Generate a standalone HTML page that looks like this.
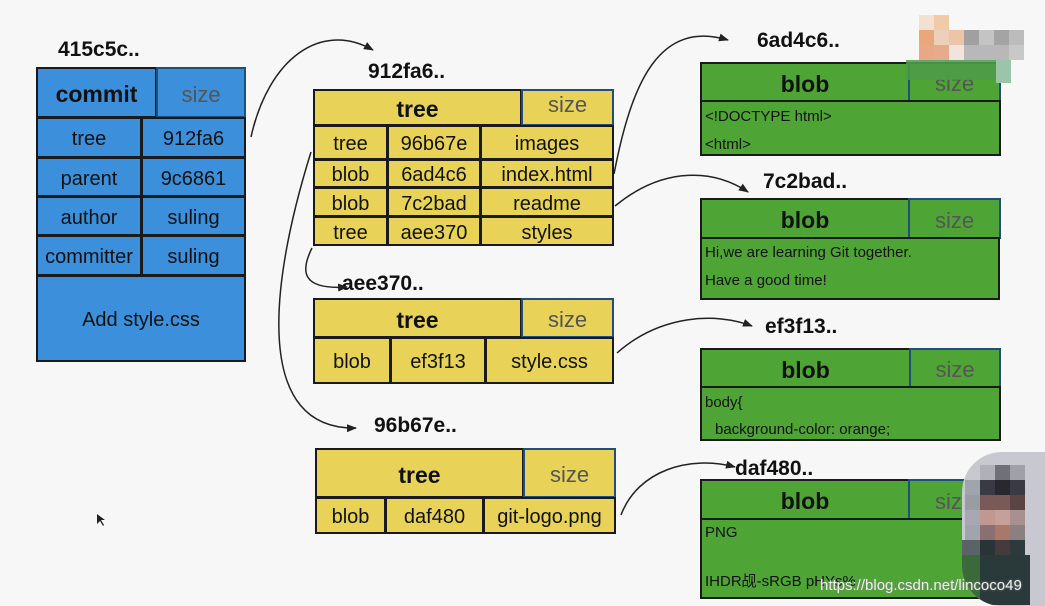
<!DOCTYPE html>
<html><head><meta charset="utf-8">
<style>
body{margin:0;width:1045px;height:606px;background:#f7f7f7;position:relative;overflow:hidden;font-family:"Liberation Sans","Noto Sans CJK SC",sans-serif;}
.c{position:absolute;box-sizing:border-box;border:2px solid #1a1a1a;display:flex;align-items:center;justify-content:center;color:#111;font-size:20px;padding-top:4px;}
.b{background:#3b8fdb;}
.y{background:#e8d257;}
.g{background:#4ea535;}
.sz{border-color:#1f4f7a;color:#555;font-size:22px;}
.h{font-weight:bold;font-size:23px;}
.lbl{position:absolute;font-weight:bold;font-size:21px;color:#111;}
.txt{position:absolute;font-size:15px;color:#111;}
.px{position:absolute;width:15px;height:15px;}
</style></head><body>

<!-- commit -->
<div class="lbl" style="left:58px;top:38px">415c5c..</div>
<div class="c b h" style="left:36px;top:67px;width:121px;height:51px">commit</div>
<div class="c b sz" style="left:156px;top:67px;width:90px;height:51px">size</div>
<div class="c b" style="left:36px;top:117px;width:106px;height:41px">tree</div>
<div class="c b" style="left:141px;top:117px;width:105px;height:41px">912fa6</div>
<div class="c b" style="left:36px;top:157px;width:106px;height:40px">parent</div>
<div class="c b" style="left:141px;top:157px;width:105px;height:40px">9c6861</div>
<div class="c b" style="left:36px;top:196px;width:106px;height:40px">author</div>
<div class="c b" style="left:141px;top:196px;width:105px;height:40px">suling</div>
<div class="c b" style="left:36px;top:235px;width:106px;height:41px">committer</div>
<div class="c b" style="left:141px;top:235px;width:105px;height:41px">suling</div>
<div class="c b" style="left:36px;top:275px;width:210px;height:87px">Add style.css</div>

<!-- tree 912fa6 -->
<div class="lbl" style="left:368px;top:60px">912fa6..</div>
<div class="c y h" style="left:313px;top:89px;width:209px;height:37px">tree</div>
<div class="c y sz" style="left:521px;top:89px;width:93px;height:37px;align-items:flex-start;padding-top:1px">size</div>
<div class="c y" style="left:313px;top:125px;width:75px;height:35px">tree</div>
<div class="c y" style="left:387px;top:125px;width:94px;height:35px">96b67e</div>
<div class="c y" style="left:480px;top:125px;width:134px;height:35px">images</div>
<div class="c y" style="left:313px;top:159px;width:75px;height:29px">blob</div>
<div class="c y" style="left:387px;top:159px;width:94px;height:29px">6ad4c6</div>
<div class="c y" style="left:480px;top:159px;width:134px;height:29px">index.html</div>
<div class="c y" style="left:313px;top:187px;width:75px;height:30px">blob</div>
<div class="c y" style="left:387px;top:187px;width:94px;height:30px">7c2bad</div>
<div class="c y" style="left:480px;top:187px;width:134px;height:30px">readme</div>
<div class="c y" style="left:313px;top:216px;width:75px;height:30px">tree</div>
<div class="c y" style="left:387px;top:216px;width:94px;height:30px">aee370</div>
<div class="c y" style="left:480px;top:216px;width:134px;height:30px">styles</div>

<!-- tree aee370 -->
<div class="lbl" style="left:342px;top:272px">aee370..</div>
<div class="c y h" style="left:313px;top:298px;width:209px;height:40px">tree</div>
<div class="c y sz" style="left:521px;top:298px;width:93px;height:40px">size</div>
<div class="c y" style="left:313px;top:337px;width:78px;height:47px">blob</div>
<div class="c y" style="left:390px;top:337px;width:96px;height:47px">ef3f13</div>
<div class="c y" style="left:485px;top:337px;width:129px;height:47px">style.css</div>

<!-- tree 96b67e -->
<div class="lbl" style="left:374px;top:414px">96b67e..</div>
<div class="c y h" style="left:315px;top:448px;width:209px;height:50px">tree</div>
<div class="c y sz" style="left:523px;top:448px;width:93px;height:50px">size</div>
<div class="c y" style="left:315px;top:497px;width:71px;height:37px">blob</div>
<div class="c y" style="left:385px;top:497px;width:99px;height:37px">daf480</div>
<div class="c y" style="left:483px;top:497px;width:133px;height:37px">git-logo.png</div>

<!-- blob 6ad4c6 -->
<div class="lbl" style="left:757px;top:29px">6ad4c6..</div>
<div class="c g h" style="left:700px;top:62px;width:210px;height:40px">blob</div>
<div class="c g sz" style="left:908px;top:62px;width:93px;height:40px">size</div>
<div class="c g" style="left:700px;top:100px;width:301px;height:56px"></div>
<div class="txt" style="left:705px;top:108px">&lt;!DOCTYPE html&gt;</div>
<div class="txt" style="left:705px;top:136px">&lt;html&gt;</div>

<!-- blob 7c2bad -->
<div class="lbl" style="left:763px;top:170px">7c2bad..</div>
<div class="c g h" style="left:700px;top:198px;width:210px;height:41px">blob</div>
<div class="c g sz" style="left:908px;top:198px;width:93px;height:41px">size</div>
<div class="c g" style="left:700px;top:237px;width:300px;height:63px"></div>
<div class="txt" style="left:705px;top:244px">Hi,we are learning Git together.</div>
<div class="txt" style="left:705px;top:272px">Have a good time!</div>

<!-- blob ef3f13 -->
<div class="lbl" style="left:765px;top:315px">ef3f13..</div>
<div class="c g h" style="left:700px;top:348px;width:211px;height:40px">blob</div>
<div class="c g sz" style="left:909px;top:348px;width:92px;height:40px">size</div>
<div class="c g" style="left:700px;top:386px;width:301px;height:55px"></div>
<div class="txt" style="left:705px;top:394px">body{</div>
<div class="txt" style="left:715px;top:421px">background-color: orange;</div>

<!-- blob daf480 -->
<div class="lbl" style="left:735px;top:457px">daf480..</div>
<div class="c g h" style="left:700px;top:479px;width:210px;height:41px">blob</div>
<div class="c g sz" style="left:908px;top:479px;width:93px;height:41px">size</div>
<div class="c g" style="left:700px;top:518px;width:301px;height:81px"></div>
<div class="txt" style="left:705px;top:524px">PNG</div>
<div class="txt" style="left:705px;top:570px">IHDR觇-sRGB pHYs%</div>

<svg width="1045" height="606" style="position:absolute;left:0;top:0" fill="none" stroke="#222" stroke-width="1.5">
<defs><marker id="a" markerWidth="10" markerHeight="8" refX="9" refY="4" orient="auto" markerUnits="userSpaceOnUse"><path d="M0,0 L10,4 L0,8 Z" fill="#222" stroke="none"/></marker></defs>
<path d="M251,137 C268,60 320,20 373,50" marker-end="url(#a)"/>
<path d="M311,152 C268,290 255,430 356,428" marker-end="url(#a)"/>
<path d="M312,248 C300,272 302,290 347,287" marker-end="url(#a)"/>
<path d="M614,174 C632,80 660,20 728,40" marker-end="url(#a)"/>
<path d="M615,206 C665,165 715,170 748,192" marker-end="url(#a)"/>
<path d="M617,353 C660,315 715,312 752,326" marker-end="url(#a)"/>
<path d="M621,515 C638,470 690,455 735,467" marker-end="url(#a)"/>
<path d="M97,514 L97,524 L100,521 L103,526 L104,525 L101,520 L105,520 Z" fill="#222" stroke="none"/>
</svg>

<!-- top-right pixelated -->
<div class="px" style="left:919px;top:15px;background:#f2e0d2"></div>
<div class="px" style="left:934px;top:15px;background:#efcba8"></div>
<div class="px" style="left:919px;top:30px;background:#e8a87c"></div>
<div class="px" style="left:934px;top:30px;background:#edd0bc"></div>
<div class="px" style="left:949px;top:30px;background:#ecc4a8"></div>
<div class="px" style="left:964px;top:30px;background:#a0a0a0"></div>
<div class="px" style="left:979px;top:30px;background:#c4c4c4"></div>
<div class="px" style="left:994px;top:30px;background:#a4a4a4"></div>
<div class="px" style="left:1009px;top:30px;background:#bcbcbc"></div>
<div class="px" style="left:919px;top:45px;background:#e8a888"></div>
<div class="px" style="left:934px;top:45px;background:#e8aa8c"></div>
<div class="px" style="left:949px;top:45px;background:#f0e4dc"></div>
<div class="px" style="left:964px;top:45px;width:45px;background:#b8b8b8"></div>
<div class="px" style="left:1009px;top:45px;background:#c8c8c8"></div>
<div class="px" style="left:906px;top:60px;width:90px;height:20px;background:#4f9a48;opacity:.85"></div>
<div class="px" style="left:996px;top:60px;height:23px;background:#9cc4a8"></div>

<!-- bottom-right pixelated avatar -->
<div style="position:absolute;left:962px;top:452px;width:83px;height:154px;border-radius:40px 0 0 40px;overflow:hidden;background:#c8c8d0">
<div class="px" style="left:18px;top:13px;background:#b0b0b8"></div><div class="px" style="left:33px;top:13px;background:#707078"></div><div class="px" style="left:48px;top:13px;background:#a0a0a8"></div>
<div class="px" style="left:3px;top:28px;background:#a0a4ac"></div><div class="px" style="left:18px;top:28px;background:#3a3a44"></div><div class="px" style="left:33px;top:28px;background:#28282e"></div><div class="px" style="left:48px;top:28px;background:#3a3a44"></div>
<div class="px" style="left:3px;top:43px;background:#9a9ca4"></div><div class="px" style="left:18px;top:43px;background:#7a5a58"></div><div class="px" style="left:33px;top:43px;background:#7a5a58"></div><div class="px" style="left:48px;top:43px;background:#5a4444"></div>
<div class="px" style="left:3px;top:58px;background:#a8a8b4"></div><div class="px" style="left:18px;top:58px;background:#c09890"></div><div class="px" style="left:33px;top:58px;background:#c4a098"></div><div class="px" style="left:48px;top:58px;background:#a89090"></div>
<div class="px" style="left:3px;top:73px;background:#a0a4ac"></div><div class="px" style="left:18px;top:73px;background:#8a7070"></div><div class="px" style="left:33px;top:73px;background:#a87868"></div><div class="px" style="left:48px;top:73px;background:#8a8080"></div>
<div class="px" style="left:0px;top:88px;width:18px;background:#5a6468"></div><div class="px" style="left:18px;top:88px;width:30px;background:#2a3438"></div><div class="px" style="left:33px;top:88px;background:#443c3c"></div><div class="px" style="left:48px;top:88px;background:#2c3a3c"></div>
<div class="px" style="left:0px;top:103px;width:18px;height:50px;background:#3a6a3a"></div><div class="px" style="left:18px;top:103px;width:50px;height:50px;background:#2a3a3a"></div>
</div>
<div style="position:absolute;left:820px;top:577px;font-size:15px;color:#eee;text-shadow:0 0 2px #888">https://blog.csdn.net/lincoco49</div>
</body></html>
